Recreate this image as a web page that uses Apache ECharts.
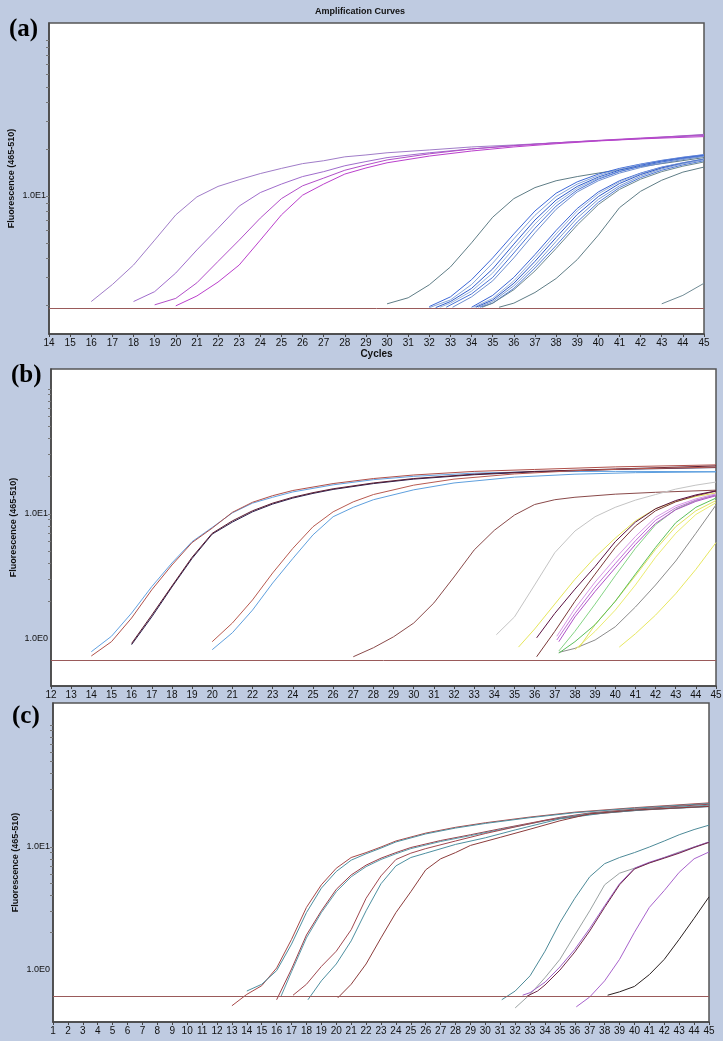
<!DOCTYPE html>
<html><head><meta charset="utf-8">
<script src="https://cdn.jsdelivr.net/npm/echarts@6/dist/echarts.min.js"></script>
<style>html,body{margin:0;padding:0;background:#bfcbe1;}#c{width:723px;height:1041px;}</style>
</head><body><div id="c"></div>
<script>
// ---------- Panel (a) curves: [cycle, fluorescence] ----------
const aP1 = [[16,2.1],[17,2.7],[18,3.6],[19,5.2],[20,7.55],[21,9.85],[22,11.5],[23,12.7],[24,13.9],[25,15.0],[26,16.1],[27,16.8],[28,17.8],[29,18.3],[30,18.9],[32,19.7],[34,20.6],[36,21.2],[38,21.9],[40,22.6],[42,23.3],[45,24.8]];
const aP2 = [[18,2.1],[19,2.43],[20,3.2],[21,4.5],[22,6.2],[23,8.6],[24,10.5],[25,11.9],[26,13.3],[27,14.3],[28,15.6],[29,16.6],[30,17.6],[32,18.9],[34,20.0],[36,21.0],[38,21.9],[40,22.6],[42,23.3],[45,24.4]];
const aP3 = [[19,2.0],[20,2.2],[21,2.77],[22,3.8],[23,5.2],[24,7.2],[25,9.6],[26,11.6],[27,13.0],[28,14.6],[29,15.8],[30,17.0],[32,18.6],[34,20.0],[36,21.0],[38,21.9],[40,22.7],[42,23.5],[45,24.6]];
const aP4 = [[20,1.97],[21,2.28],[22,2.8],[23,3.6],[24,5.2],[25,7.55],[26,10.1],[27,11.9],[28,13.8],[29,15.1],[30,16.3],[32,18.0],[34,19.4],[36,20.6],[38,21.6],[40,22.5],[42,23.2],[45,24.0]];
const aB1 = [[32,1.95],[33,2.25],[34,2.9],[35,4.0],[36,5.7],[37,8.0],[38,10.4],[39,12.3],[40,13.8],[41,15.0],[42,16.0],[43,16.9],[44,17.7],[45,18.4]];
const aB2 = [[32,1.92],[33,2.15],[34,2.7],[35,3.7],[36,5.3],[37,7.5],[38,9.9],[39,11.9],[40,13.5],[41,14.8],[42,15.9],[43,16.8],[44,17.6],[45,18.3]];
const aB3 = [[32.3,1.92],[33,2.1],[34,2.55],[35,3.4],[36,4.9],[37,7.0],[38,9.4],[39,11.5],[40,13.2],[41,14.6],[42,15.7],[43,16.7],[44,17.5],[45,18.2]];
const aB4 = [[32.5,1.93],[33,2.05],[34,2.45],[35,3.2],[36,4.6],[37,6.6],[38,9.0],[39,11.2],[40,13.0],[41,14.4],[42,15.5],[43,16.5],[44,17.3],[45,18.0]];
const aB5 = [[32.8,1.93],[34,2.35],[35,3.0],[36,4.3],[37,6.2],[38,8.6],[39,10.9],[40,12.8],[41,14.3],[42,15.5],[43,16.5],[44,17.4],[45,18.1]];
const aB6 = [[33.1,1.93],[34,2.25],[35,2.85],[36,4.0],[37,5.8],[38,8.2],[39,10.6],[40,12.5],[41,14.0],[42,15.2],[43,16.2],[44,17.1],[45,17.9]];
const aC1 = [[34,1.93],[35,2.3],[36,3.0],[37,4.2],[38,6.0],[39,8.3],[40,10.6],[41,12.5],[42,14.0],[43,15.3],[44,16.3],[45,17.2]];
const aC2 = [[34.1,1.93],[35,2.2],[36,2.85],[37,4.0],[38,5.7],[39,8.0],[40,10.3],[41,12.3],[42,13.9],[43,15.2],[44,16.3],[45,17.3]];
const aC3 = [[34.2,1.93],[35,2.15],[36,2.75],[37,3.8],[38,5.4],[39,7.6],[40,9.9],[41,12.0],[42,13.7],[43,15.1],[44,16.2],[45,17.2]];
const aC4 = [[34.3,1.93],[35,2.1],[36,2.65],[37,3.6],[38,5.1],[39,7.2],[40,9.5],[41,11.6],[42,13.4],[43,14.9],[44,16.1],[45,17.1]];
const aC5 = [[34.4,1.93],[35,2.05],[36,2.55],[37,3.45],[38,4.8],[39,6.8],[40,9.1],[41,11.3],[42,13.1],[43,14.6],[44,15.8],[45,16.8]];
const aC6 = [[34.5,1.93],[35,2.05],[36,2.5],[37,3.3],[38,4.6],[39,6.5],[40,8.8],[41,11.0],[42,12.8],[43,14.3],[44,15.5],[45,16.5]];
const aG1 = [[30,2.03],[31,2.22],[32,2.69],[33,3.5],[34,5.0],[35,7.3],[36,9.6],[37,11.3],[38,12.5],[39,13.3],[40,14.0],[42,15.4],[45,17.6]];
const aG2 = [[35.3,1.93],[36,2.05],[37,2.4],[38,2.95],[39,3.9],[40,5.6],[41,8.4],[42,10.7],[43,12.6],[44,14.2],[45,15.3]];
const aG4 = [[43,2.03],[44,2.3],[45,2.75]];

// ---------- Panel (b) curves ----------
const bBlue1 = [[14,0.79],[15,1.05],[16,1.61],[17,2.62],[18,4.05],[19,6.0],[20,7.8],[21,10.2],[22,12.2],[23,13.6],[24,15.0],[26,17.1],[28,18.8],[30,20.0],[33,21.2],[36,21.8],[40,21.9],[45,21.8]];
const bRed1 = [[14,0.73],[15,0.95],[16,1.47],[17,2.47],[18,3.9],[19,5.9],[20,7.7],[21,10.3],[22,12.4],[23,14.0],[24,15.4],[26,17.5],[28,19.2],[30,20.5],[33,21.9],[36,22.7],[40,23.8],[45,24.7]];
const bDark1 = [[16,0.9],[17,1.5],[18,2.6],[19,4.4],[20,6.9],[21,8.6],[22,10.4],[23,12.0],[24,13.4],[25,14.6],[26,15.7],[28,17.5],[30,19.0],[33,20.6],[36,21.7],[40,22.7],[45,23.5]];
const bDark2 = [[16,0.92],[17,1.55],[18,2.65],[19,4.5],[20,7.0],[21,8.8],[22,10.6],[23,12.2],[24,13.6],[25,14.8],[26,15.9],[28,17.7],[30,19.2],[33,20.8],[36,21.9],[40,22.9],[45,24.2]];
const bRed2 = [[20,0.95],[21,1.34],[22,2.05],[23,3.37],[24,5.3],[25,7.9],[26,10.4],[27,12.5],[28,14.3],[30,17.0],[32,19.0],[35,20.9],[38,22.2],[41,23.0],[45,23.7]];
const bBlue2 = [[20,0.82],[21,1.12],[22,1.7],[23,2.8],[24,4.4],[25,6.8],[26,9.5],[27,11.3],[28,13.0],[30,15.6],[32,17.7],[35,19.7],[38,20.8],[41,21.4],[45,21.7]];
const bBrown = [[27,0.72],[28,0.85],[29,1.04],[30,1.34],[31,1.94],[32,3.13],[33,5.15],[34,7.4],[35,9.8],[36,11.9],[37,13.0],[38,13.6],[40,14.4],[42,14.9],[45,15.5]];
const bGray = [[34.1,1.08],[35,1.5],[36,2.7],[37,4.9],[38,7.3],[39,9.5],[40,11.3],[41,12.9],[42,14.3],[43,15.8],[44,17.0],[45,18.0]];
const bDarkM = [[36.1,1.02],[37,1.6],[38,2.5],[39,3.8],[40,6.0],[41,8.6],[42,11.0],[43,12.8],[44,14.2],[45,15.3]];
const bDarkM2 = [[36.1,0.72],[37,1.15],[38,2.0],[39,3.3],[40,5.4],[41,8.0],[42,10.6],[43,12.5],[44,14.0],[45,15.2]];
const bM1 = [[37.1,0.98],[38,1.6],[39,2.6],[40,4.0],[41,6.1],[42,8.9],[43,11.2],[44,12.9],[45,14.2]];
const bM2 = [[37.1,1.05],[38,1.75],[39,2.85],[40,4.4],[41,6.6],[42,9.4],[43,11.6],[44,13.2],[45,14.5]];
const bM3 = [[37.2,0.95],[38,1.5],[39,2.4],[40,3.7],[41,5.7],[42,8.4],[43,10.8],[44,12.6],[45,14.0]];
const bGreen1 = [[37.2,0.77],[38,0.95],[39,1.3],[40,2.0],[41,3.3],[42,5.4],[43,8.5],[44,11.3],[45,13.4]];
const bGreen2 = [[37.2,0.8],[38,1.15],[39,1.9],[40,3.2],[41,5.3],[42,8.2],[43,10.9],[44,12.8],[45,14.3]];
const bY1 = [[35.2,0.86],[36,1.2],[37,1.9],[38,3.0],[39,4.5],[40,6.4],[41,8.8],[42,11.0],[43,12.6],[44,13.8],[45,14.7]];
const bY2 = [[38,0.82],[39,1.15],[40,1.7],[41,2.7],[42,4.5],[43,7.0],[44,9.9],[45,12.3]];
const bY3 = [[38.2,0.85],[39,1.3],[40,2.0],[41,3.2],[42,5.2],[43,7.9],[44,10.6],[45,12.8]];
const bY4 = [[40.2,0.86],[41,1.1],[42,1.55],[43,2.3],[44,3.6],[45,5.9]];
const bGrayB = [[37.2,0.78],[38,0.84],[39,0.98],[40,1.25],[41,1.8],[42,2.7],[43,4.2],[44,7.0],[45,11.8]];

// ---------- Panel (c) curves ----------
const cRed1 = [[13,0.5],[14,0.62],[15,0.73],[16,1.02],[17,1.75],[18,3.2],[19,4.9],[20,6.7],[21,8.2],[22,9.0],[23,10.0],[24,11.2],[26,13.0],[28,14.5],[30,15.8],[33,17.6],[36,19.3],[40,21.0],[45,23.0]];
const cTeal1 = [[14,0.66],[15,0.75],[16,0.97],[17,1.6],[18,2.9],[19,4.6],[20,6.3],[21,7.8],[22,8.8],[23,9.8],[24,11.0],[26,12.8],[28,14.3],[30,15.6],[33,17.4],[36,19.1],[40,20.8],[45,22.7]];
const cRed2 = [[16,0.56],[17,1.0],[18,1.9],[19,3.0],[20,4.5],[21,5.9],[22,7.1],[23,8.1],[24,9.0],[25,9.9],[27,11.3],[29,12.6],[31,14.1],[33,15.7],[35,17.5],[37,19.0],[40,20.4],[45,22.4]];
const cTeal2 = [[16.3,0.6],[17,0.95],[18,1.8],[19,2.9],[20,4.3],[21,5.7],[22,6.9],[23,7.9],[24,8.8],[25,9.7],[27,11.1],[29,12.4],[31,13.9],[33,15.5],[35,17.3],[37,18.8],[40,20.2],[45,22.0]];
const cRed3 = [[17.1,0.61],[18,0.75],[19,1.05],[20,1.4],[21,2.1],[22,3.8],[23,5.8],[24,7.9],[25,8.9],[26,9.7],[28,11.2],[30,12.9],[32,14.6],[34,16.5],[37,18.5],[40,19.9],[45,21.6]];
const cTeal3 = [[18.1,0.56],[19,0.8],[20,1.1],[21,1.7],[22,3.0],[23,5.0],[24,7.0],[25,8.2],[26,8.9],[28,10.5],[30,11.9],[32,13.8],[35,17.0],[38,19.0],[41,20.3],[45,21.4]];
const cBrown4 = [[20.1,0.58],[21,0.75],[22,1.1],[23,1.8],[24,2.9],[25,4.3],[26,6.5],[27,8.0],[28,9.0],[29,10.3],[31,12.0],[33,14.0],[35,16.4],[37,18.7],[40,20.1],[45,21.5]];
const cTealL1 = [[31.1,0.56],[32,0.66],[33,0.88],[34,1.4],[35,2.4],[36,3.8],[37,5.7],[38,7.3],[39,8.2],[40,9.0],[41,10.0],[42,11.2],[43,12.6],[44,13.9],[45,15.1]];
const cGrayL2 = [[32,0.48],[33,0.62],[34,0.85],[35,1.2],[36,1.9],[37,3.0],[38,4.9],[39,6.1],[40,6.7],[41,7.4],[42,8.2],[43,9.1],[44,10.0],[45,11.0]];
const cPurpleL3 = [[32.5,0.61],[33,0.64],[34,0.78],[35,1.04],[36,1.45],[37,2.15],[38,3.3],[39,5.0],[40,6.7],[41,7.5],[42,8.2],[43,9.0],[44,10.0],[45,11.0]];
const cMaroonL3 = [[32.8,0.6],[33.5,0.66],[34,0.74],[35,0.98],[36,1.38],[37,2.05],[38,3.2],[39,4.9],[40,6.6],[41,7.4],[42,8.1],[43,8.9],[44,9.9],[45,10.9]];
const cPurpleL4 = [[36.1,0.49],[37,0.59],[38,0.8],[39,1.2],[40,2.0],[41,3.2],[42,4.4],[43,6.2],[44,8.0],[45,9.1]];
const cBlackL5 = [[38.2,0.61],[39,0.65],[40,0.72],[41,0.9],[42,1.2],[43,1.75],[44,2.6],[45,3.9]];

// ---------- axes / labels ----------
const thresholds = [1.91, 0.68, 0.60];
const xRanges = [[14,45],[12,45],[1,45]];
const yRanges = [[1.30,128.5],[0.42,144.5],[0.368,151.4]];
const yLabelValues = [[10],[1,10],[1,10]];
const yLabelTexts = {"0":"1.0E0","1":"1.0E1"};
const yMinorTicks = [2,3,4,5,6,7,8,9,10,20,30,40,50,60,70,80,90,100];
const panelTags = ["(a)","(b)","(c)"];
const yName = "Fluorescence (465-510)";
const xName = "Cycles";
const chartTitle = "Amplification Curves";

// ---------- series lists with styles ----------
const panelSeries = [
  [[aP1,'#a07cc8'],[aP2,'#a06ccc'],[aP3,'#b24ec8'],[aP4,'#bb3fcc'],
   [aG1,'#5f7d86'],[aB1,'#3d68d8'],[aB2,'#86a4d8'],[aB3,'#2f5ccc'],[aB4,'#9ab4dc'],[aB5,'#4a74d6'],[aB6,'#6f8fd0'],
   [aC1,'#3a64d4'],[aC2,'#9ab2da'],[aC3,'#2d58c8'],[aC4,'#7e9ccf'],[aC5,'#4f79d8'],[aC6,'#6c8890'],
   [aG2,'#5f7d86'],[aG4,'#6f8a94']],
  [[bBlue1,'#62a2e2'],[bRed1,'#b0504a'],[bDark1,'#2c2250'],[bDark2,'#5a1a30'],[bRed2,'#b85a50'],[bBlue2,'#5fa0de'],
   [bBrown,'#8a4a4a'],[bGray,'#c4c4c4'],[bY1,'#e6e65a'],[bGrayB,'#8c8c8c'],[bY2,'#ecec70'],[bY3,'#e2e25e'],[bY4,'#e8e860'],
   [bGreen1,'#5cbf5c'],[bGreen2,'#84d484'],[bDarkM2,'#7a3838'],[bDarkM,'#5a1040'],[bM1,'#c070d8'],[bM2,'#d898e6'],[bM3,'#b050c8']],
  [[cRed1,'#a84848'],[cTeal1,'#4d8fa0'],[cRed2,'#9c3e48'],[cTeal2,'#5a98a8'],[cRed3,'#a04850'],[cTeal3,'#4d8fa0'],[cBrown4,'#8c3c3c'],
   [cTealL1,'#4d8a98'],[cGrayL2,'#9aa2a2'],[cPurpleL3,'#a060c8'],[cMaroonL3,'#702848'],[cPurpleL4,'#a862cc'],[cBlackL5,'#2a2020']]
];

const grids = [
  {left:49, top:23, width:655, height:311},
  {left:51, top:369, width:665, height:317},
  {left:53, top:703, width:656, height:319}
];
const FONT = 'Liberation Sans';

const option = {
  animation:false,
  backgroundColor:'#bfcbe1',
  title:[
    {text:chartTitle, left:355, top:2, textAlign:'center', textStyle:{fontSize:9, fontWeight:'bold', color:'#111', fontFamily:FONT}},
    {text:panelTags[0], left:4, top:12, textStyle:{fontSize:25, fontWeight:'bold', color:'#000', fontFamily:'Liberation Serif'}},
    {text:panelTags[1], left:6, top:358, textStyle:{fontSize:25, fontWeight:'bold', color:'#000', fontFamily:'Liberation Serif'}},
    {text:panelTags[2], left:7, top:699, textStyle:{fontSize:25, fontWeight:'bold', color:'#000', fontFamily:'Liberation Serif'}}
  ],
  grid: grids.map(g=>Object.assign({show:true, backgroundColor:'#ffffff', borderColor:'#555', borderWidth:1.5, containLabel:false, outerBoundsMode:'none'}, g)),
  xAxis: grids.map((g,i)=>({
    type:'value', gridIndex:i, min:xRanges[i][0], max:xRanges[i][1], interval:1,
    name: i===0 ? xName : '', nameLocation:'middle', nameGap:15, nameMoveOverlap:false,
    nameTextStyle:{fontSize:10, fontWeight:'bold', color:'#111', fontFamily:FONT},
    axisLine:{show:true, lineStyle:{color:'#444', width:1.5}},
    axisTick:{show:true, length:3, lineStyle:{color:'#444'}},
    axisLabel:{fontSize:10, color:'#111', margin:4, fontFamily:FONT},
    splitLine:{show:false}
  })),
  yAxis: grids.map((g,i)=>({
    type:'log', logBase:10, gridIndex:i, min:yRanges[i][0], max:yRanges[i][1],
    name:yName, nameLocation:'middle', nameGap:33, nameRotate:90, nameMoveOverlap:false,
    nameTextStyle:{fontSize:9, fontWeight:'bold', color:'#111', fontFamily:FONT},
    axisLine:{show:true, lineStyle:{color:'#444', width:1.5}},
    axisTick:{show:true, length:3, lineStyle:{color:'#777'}, customValues: yMinorTicks.filter(v=>v>yRanges[i][0] && v<yRanges[i][1])},
    axisLabel:{fontSize:9, color:'#111', margin:3, fontFamily:FONT, customValues: yLabelValues[i],
      formatter: v => yLabelTexts[String(Math.round(Math.log10(v)))]},
    splitLine:{show:false}, minorTick:{show:false}
  })),
  series: []
};

panelSeries.forEach((list, p) => {
  list.forEach((item, k) => {
    const s = {
      type:'line', xAxisIndex:p, yAxisIndex:p, data:item[0], symbol:'none', smooth:false,
      lineStyle:{color:item[1], width:1}, itemStyle:{color:item[1]}, clip:true, silent:true
    };
    if (k === 0) {
      s.markLine = {silent:true, symbol:['none','none'], label:{show:false},
        lineStyle:{color:'#9a5a5a', width:1, type:'solid'}, data:[{yAxis:thresholds[p]}]};
    }
    option.series.push(s);
  });
});

const chart = echarts.init(document.getElementById('c'), null, {renderer:'canvas'});
chart.setOption(option);
</script>
</body></html>
